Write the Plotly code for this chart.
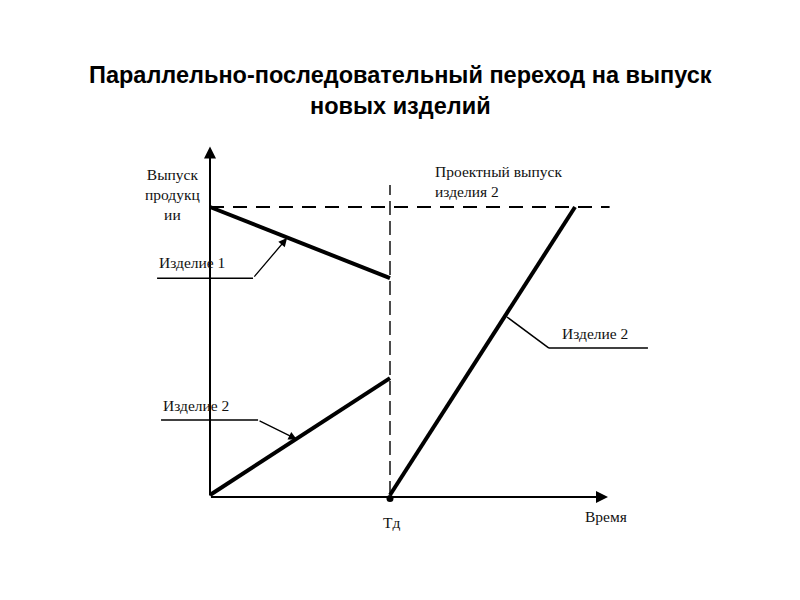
import plotly.graph_objects as go

# ---- data (time in units of Td, output as share of projected output) ----
prod1_x = [0.0, 1.0]
prod1_y = [1.0, 0.753]
prod2_par_x = [0.0, 1.0]
prod2_par_y = [0.0, 0.406]
prod2_new_x = [1.0, 2.028]
prod2_new_y = [0.0, 1.0]
design_x = [0.0, 2.22]
design_y = [1.0, 1.0]
td_x = [1.0, 1.0]
td_y = [0.0, 1.076]

title_text = "Параллельно-последовательный переход на выпуск<br>новых изделий"
serif = "Liberation Serif, Times New Roman, serif"
lab_font = dict(family=serif, size=15.5, color="#111")

fig = go.Figure()
fig.add_trace(go.Scatter(x=design_x, y=design_y, mode="lines",
                         line=dict(color="black", width=2, dash="14px,9px"), hoverinfo="skip"))
fig.add_trace(go.Scatter(x=td_x, y=td_y, mode="lines",
                         line=dict(color="black", width=1.4, dash="14px,6px"), hoverinfo="skip"))
fig.add_trace(go.Scatter(x=prod1_x, y=prod1_y, mode="lines",
                         line=dict(color="black", width=4), hoverinfo="skip"))
fig.add_trace(go.Scatter(x=prod2_par_x, y=prod2_par_y, mode="lines",
                         line=dict(color="black", width=4), hoverinfo="skip"))
fig.add_trace(go.Scatter(x=prod2_new_x, y=prod2_new_y, mode="lines",
                         line=dict(color="black", width=4), hoverinfo="skip"))
fig.add_trace(go.Scatter(x=[prod2_new_x[0]], y=[prod2_new_y[0] - 0.012], mode="markers",
                         marker=dict(color="black", size=7), hoverinfo="skip"))

# leader segments
for xs, ys in [([-0.294, 0.239], [0.753, 0.753]),
               ([-0.272, 0.267], [0.260, 0.260]),
               ([1.883, 2.433], [0.510, 0.510]),
               ([1.883, 1.65], [0.510, 0.618])]:
    fig.add_trace(go.Scatter(x=xs, y=ys, mode="lines",
                             line=dict(color="black", width=1.5), hoverinfo="skip"))

ann = []
# axes arrows
ann.append(dict(x=0, y=1.21, ax=0, ay=-0.007, xref="x", yref="y", axref="x", ayref="y",
                showarrow=True, arrowhead=2, arrowsize=1.2, arrowwidth=2, arrowcolor="black", text=""))
ann.append(dict(x=2.211, y=-0.007, ax=-0.003, ay=-0.007, xref="x", yref="y", axref="x", ayref="y",
                showarrow=True, arrowhead=2, arrowsize=1.2, arrowwidth=2, arrowcolor="black", text=""))
# leader arrows
ann.append(dict(x=0.428, y=0.892, ax=0.239, ay=0.753, xref="x", yref="y", axref="x", ayref="y",
                showarrow=True, arrowhead=2, arrowsize=1.3, arrowwidth=1.3, arrowcolor="black", text=""))
ann.append(dict(x=0.483, y=0.193, ax=0.267, ay=0.260, xref="x", yref="y", axref="x", ayref="y",
                showarrow=True, arrowhead=2, arrowsize=1.3, arrowwidth=1.3, arrowcolor="black", text=""))

# text labels
def lab(x, y, t, xanchor="left"):
    ann.append(dict(x=x, y=y, xref="x", yref="y", text=t, showarrow=False,
                    xanchor=xanchor, yanchor="middle", font=lab_font, align="center"))

lab(-0.294, 0.809, "Изделие 1")
lab(-0.272, 0.3125, "Изделие 2")
lab(1.944, 0.5625, "Изделие 2")
lab(-0.211, 1.042, "Выпуск<br>продукц<br>ии", xanchor="center")
ann.append(dict(x=1.239, y=1.09, xref="x", yref="y", text="Проектный выпуск<br>изделия 2",
                showarrow=False, xanchor="left", yanchor="middle", font=lab_font, align="left"))
lab(1.01, -0.094, "Тд", xanchor="center")
lab(2.2, -0.076, "Время", xanchor="center")

ann.append(dict(x=0.5 - 8 / 800, y=1 - 82 / 600, xref="paper", yref="paper", text="<b>" + title_text + "</b>",
                showarrow=False, xanchor="center", yanchor="middle",
                font=dict(family="Liberation Sans, Arial, sans-serif", size=23.5, color="black")))

fig.update_layout(
    width=800, height=600,
    margin=dict(l=0, r=0, t=0, b=0),
    paper_bgcolor="white", plot_bgcolor="white",
    showlegend=False,
    xaxis=dict(range=[-202 / 180, 598 / 180], visible=False, fixedrange=True),
    yaxis=dict(range=[-113 / 288, 487 / 288], visible=False, fixedrange=True),
    annotations=ann,
)

fig.write_html("out.html")
